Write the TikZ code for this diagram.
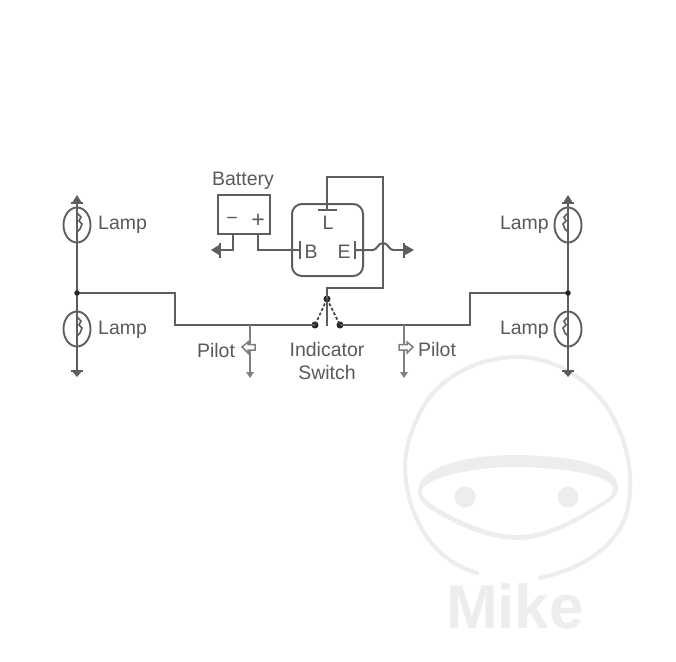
\documentclass[tikz,border=0pt]{standalone}
\usepackage{fontspec}
\setmainfont{Liberation Sans}
\usetikzlibrary{calc}
\definecolor{cwire}{HTML}{5E5E5E}
\definecolor{cthin}{HTML}{808080}
\definecolor{cmark}{HTML}{EDEDED}
\definecolor{ctxt}{HTML}{5A5A5A}
\tikzset{
  wireline/.style={draw=cwire,line width=2pt,line join=miter},
  thinline/.style={draw=cthin,line width=1.4pt},
  lbl/.style={text=ctxt,font=\fontsize{19.5}{21}\selectfont,inner sep=0pt,anchor=center},
  dotmark/.style={circle,fill=black!85,inner sep=0pt,minimum size=7pt,draw=none},
  marksty/.style={draw=cmark,line width=4pt,line cap=round}
}
% #3 = +1 filament to the right, -1 filament to the left
\newcommand{\lampat}[3]{%
  \draw[cwire,line width=1.9pt] (#1,#2) ellipse (13.5 and 17.5);
  \draw[cwire,line width=1.6pt] (#1,#2-16) -- (#1,#2-12) -- (#1+#3*4,#2-8) -- (#1+#3*2,#2-4) -- (#1+#3*5,#2-1) -- (#1+#3*3,#2+4) -- (#1,#2+7) -- (#1,#2+17);
}
\begin{document}
\begin{tikzpicture}[x=1pt,y=-1pt]
\useasboundingbox (0,0) rectangle (676,661);
\fill[white] (0,0) rectangle (676,661);
% watermark
\draw[marksty] (477,573) .. controls (450,565) and (422,545) .. (409,497) .. controls (401,465) and (405,440) .. (423,407) .. controls (442,375) and (480,357) .. (518,357) .. controls (550,357) and (585,375) .. (607,407) .. controls (625,435) and (635,470) .. (628,507) .. controls (622,540) and (590,567) .. (540,578);
\fill[cmark] (418,491) .. controls (418,466) and (470,455) .. (513,455) .. controls (560,455) and (618,462) .. (618,488) .. controls (618,496) and (612,500) .. (606,504) .. controls (575,524) and (545,540) .. (517,540) .. controls (490,540) and (455,526) .. (426,506) .. controls (420,501) and (418,497) .. (418,491) -- cycle;
\fill[white] (422,491) .. controls (423,478) and (475,467) .. (513,467) .. controls (555,467) and (613,474) .. (613,489) .. controls (613,495) and (607,499) .. (600,503) .. controls (575,519) and (545,535) .. (517,535) .. controls (490,535) and (458,521) .. (430,503) .. controls (425,499) and (422,496) .. (422,491) -- cycle;
\fill[cmark] (465,497) circle (10.5);
\fill[cmark] (568,497) circle (10.5);
\node[text=cmark,font=\fontsize{62}{62}\selectfont\bfseries,inner sep=0pt,anchor=base] (mike) at (515,628) {Mike};
% coordinates
\coordinate (ltop) at (77,203);
\coordinate (lj) at (77,293);
\coordinate (lbot) at (77,372);
\coordinate (rtop) at (568,203);
\coordinate (rj) at (568,293);
\coordinate (rbot) at (568,372);
% lamp columns
\draw[wireline] (ltop) -- (lbot);
\draw[wireline] (rtop) -- (rbot);
\lampat{77}{225}{1}\lampat{77}{329}{1}\lampat{568}{225}{-1}\lampat{568}{329}{-1}
\foreach \x in {77,568}{
  \fill[cwire] (\x,195) -- (\x+5,203) -- (\x-5,203) -- cycle;
  \draw[cwire,line width=1.4pt] (\x-6,203) -- (\x+6,203);
  \fill[cwire] (\x,377) -- (\x+5,371) -- (\x-5,371) -- cycle;
  \draw[cwire,line width=1.4pt] (\x-6,371) -- (\x+6,371);
}
\node[lbl,anchor=west] (l1) at (98,225) {Lamp};
\node[lbl,anchor=west] (l2) at (98,330) {Lamp};
\node[lbl,anchor=east] (l3) at (549,225) {Lamp};
\node[lbl,anchor=east] (l4) at (549,330) {Lamp};
% switch
\node[dotmark] (swc) at (327,299) {};
\node[dotmark] (swl) at (315,325) {};
\node[dotmark] (swr) at (340,325) {};
\draw[wireline] (lj) -- (175,293) -- (175,325) -- (swl.center);
\draw[wireline] (rj) -- (470,293) -- (470,325) -- (swr.center);
\node[dotmark,minimum size=5.5pt] at (lj) {};
\node[dotmark,minimum size=5.5pt] at (rj) {};
\draw[wireline] (swc.center) -- (327,326);
\draw[black!75,line width=1.6pt,dash pattern=on 3pt off 2pt] (swc.center) -- (swl.center);
\draw[black!75,line width=1.6pt,dash pattern=on 3pt off 2pt] (swc.center) -- (swr.center);
% flasher
\node[draw=cwire,line width=2pt,rounded corners=10pt,minimum width=71pt,minimum height=72pt,inner sep=0pt] (relay) at (327.5,240) {};
\draw[wireline] (318,210) -- (337,210);
\draw[wireline] (300,241) -- (300,259);
\draw[wireline] (355,241) -- (355,259);
\node[lbl] (bl) at (311,252) {B};
\node[lbl] (el) at (344,252) {E};
\node[lbl] (ll) at (328,223) {L};
\draw[wireline] (327,210) -- (327,177) -- (383,177) -- (383,288) -- (327,288) -- (swc.center);
% battery
\node[draw=cwire,line width=2pt,minimum width=52pt,minimum height=39pt,inner sep=0pt] (batt) at (244,214) {};
\node[lbl] (battl) at (243,181) {Battery};
\node[lbl] (minus) at (232,221) {\textminus};
\node[lbl,font=\fontsize{23}{23}\selectfont] (plus) at (258,221) {+};
\draw[wireline] (233,233.5) -- (233,250) -- (220,250);
\draw[wireline] (258,233.5) -- (258,250) -- (300,250);
\draw[wireline] (220,243) -- (220,258);
\fill[cwire] (211,250) -- (219,245) -- (219,255) -- cycle;
\draw[wireline] (355,250) -- (373,250) .. controls (377,250) and (378,243) .. (383,243) .. controls (388,243) and (389,250) .. (393,250);
\draw[wireline] (393,250) -- (404,250);
\draw[wireline] (404,243) -- (404,258);
\fill[cwire] (414,250) -- (405,245) -- (405,255) -- cycle;
% pilots
\foreach \x in {250,404}{
  \draw[thinline] (\x,325) -- (\x,373);
  \fill[cthin] (\x,378) -- (\x+4,372) -- (\x-4,372) -- cycle;
}
\draw[cthin,fill=white,line width=1.5pt] (242,347) -- (248,342) -- (248,344.5) -- (255,344.5) -- (255,350) -- (248,350) -- (248,353) -- cycle;
\draw[cthin,fill=white,line width=1.5pt] (413,347) -- (407,342) -- (407,344.5) -- (399,344.5) -- (399,350) -- (407,350) -- (407,353) -- cycle;
\node[lbl] (p1) at (216,351) {Pilot};
\node[lbl] (p2) at (437,350) {Pilot};
\node[lbl] (is1) at (327,350) {Indicator};
\node[lbl] (is2) at (327,373) {Switch};
\end{tikzpicture}
\end{document}
